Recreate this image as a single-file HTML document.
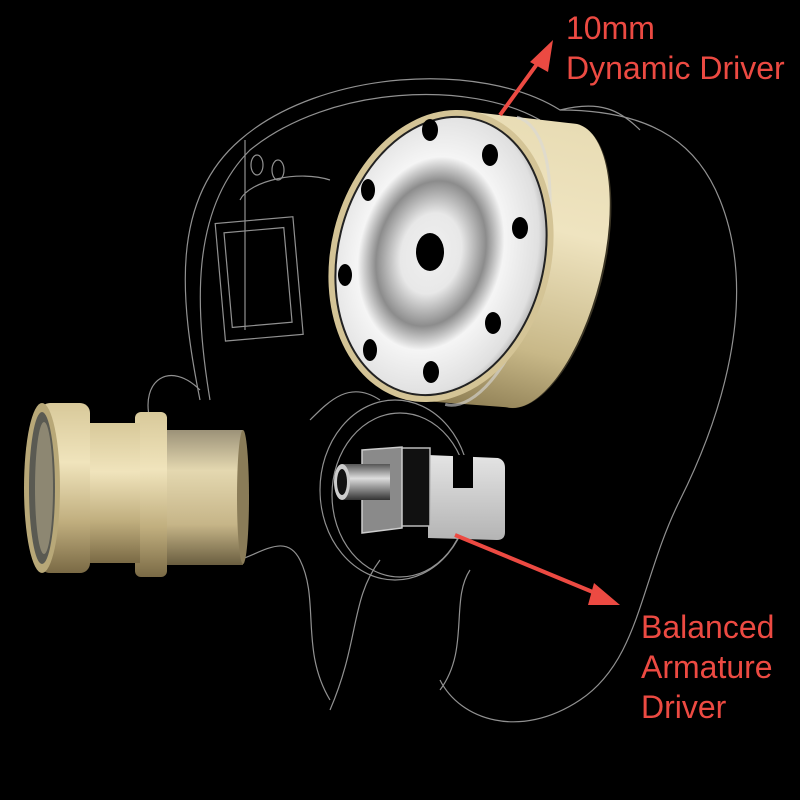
<!DOCTYPE html>
<html><head><style>
html,body{margin:0;padding:0;background:#000;}
.t{position:absolute;color:#ec4a42;font-family:"Liberation Sans",sans-serif;font-size:32px;line-height:40px;}
</style></head><body>
<div style="position:relative;width:800px;height:800px;overflow:hidden;background:#000">
<svg width="800" height="800" viewBox="0 0 800 800" style="position:absolute;left:0;top:0">
<defs>
<radialGradient id="face" cx="0.45" cy="0.5" r="0.58">
<stop offset="0" stop-color="#f0f0f0"/><stop offset="0.25" stop-color="#e8e8e8"/><stop offset="0.45" stop-color="#8c8c8c"/><stop offset="0.6" stop-color="#f5f5f5"/><stop offset="0.88" stop-color="#e0e0e0"/><stop offset="1" stop-color="#9a9a9a"/>
</radialGradient>
<linearGradient id="goldv" x1="0" y1="0" x2="0" y2="1">
<stop offset="0" stop-color="#e8dcb4"/><stop offset="0.35" stop-color="#efe4c0"/><stop offset="0.75" stop-color="#c8b888"/><stop offset="1" stop-color="#8a7a50"/>
</linearGradient>
<linearGradient id="gold2" x1="0" y1="0" x2="0" y2="1">
<stop offset="0" stop-color="#d8c99a"/><stop offset="0.35" stop-color="#f0e4bc"/><stop offset="0.7" stop-color="#c0ae7e"/><stop offset="1" stop-color="#7a6a45"/>
</linearGradient>
<linearGradient id="tube" x1="0" y1="0" x2="0" y2="1">
<stop offset="0" stop-color="#9c9278"/><stop offset="0.3" stop-color="#e4d8b0"/><stop offset="0.7" stop-color="#c6b588"/><stop offset="1" stop-color="#6a5e40"/>
</linearGradient>
<linearGradient id="silv" x1="0" y1="0" x2="0" y2="1">
<stop offset="0" stop-color="#e4e4e4"/><stop offset="1" stop-color="#b4b4b4"/>
</linearGradient>
<linearGradient id="pipe" x1="0" y1="0" x2="0" y2="1">
<stop offset="0" stop-color="#555"/><stop offset="0.4" stop-color="#ddd"/><stop offset="1" stop-color="#333"/>
</linearGradient>
</defs>
<g fill="none" stroke="#cfcfcf" stroke-width="1.2" opacity="0.7">
<path d="M200 400 C180 300 170 200 240 140 C320 70 480 60 560 110 C660 110 700 150 720 200 C760 300 720 420 680 500 C640 580 640 660 580 700 C520 740 460 720 440 680"/>
<path d="M210 400 C195 310 190 210 250 150 C330 85 470 80 540 120"/>
<path d="M330 700 C300 650 320 600 300 560 C280 520 240 580 200 560"/>
<path d="M245 140 L245 330 M240 200 C250 180 300 170 330 180"/>
<rect x="228" y="230" width="60" height="95" transform="rotate(-5 258 277)"/>
<rect x="220" y="220" width="78" height="118" transform="rotate(-5 258 277)"/>
<ellipse cx="257" cy="165" rx="6" ry="10"/><ellipse cx="278" cy="170" rx="6" ry="10"/>
<ellipse cx="395" cy="490" rx="75" ry="90"/>
<ellipse cx="400" cy="495" rx="68" ry="82"/>
<path d="M330 710 C360 640 350 600 380 560 M440 690 C470 650 450 600 470 570"/>
<path d="M150 420 C140 380 170 360 200 390 M310 420 C330 400 350 380 380 400"/>
<path d="M560 110 C600 100 620 110 640 130"/>
</g>
<!-- dynamic driver -->
<g transform="translate(441 256) rotate(14)">
<ellipse cx="100" cy="-15" rx="62" ry="146" fill="#3a3424"/>
<path d="M0 -148 L100 -161 A60 146 0 0 1 100 131 L0 148 Z" fill="url(#goldv)"/>
<path d="M40 -153 A60 146 0 0 1 40 143" fill="none" stroke="#d8d8d8" stroke-width="3" opacity="0.6"/>
<ellipse cx="0" cy="0" rx="110" ry="148" fill="#d4c496"/>
<ellipse cx="0" cy="0" rx="103" ry="141" fill="url(#face)" stroke="#222" stroke-width="2"/>
</g>
<ellipse cx="430" cy="252" rx="14" ry="19" fill="#000"/>
<g fill="#000">
<ellipse cx="430" cy="130" rx="8" ry="11"/><ellipse cx="490" cy="155" rx="8" ry="11"/>
<ellipse cx="368" cy="190" rx="7" ry="11"/><ellipse cx="520" cy="228" rx="8" ry="11"/>
<ellipse cx="345" cy="275" rx="7" ry="11"/><ellipse cx="493" cy="323" rx="8" ry="11"/>
<ellipse cx="370" cy="350" rx="7" ry="11"/><ellipse cx="431" cy="372" rx="8" ry="11"/>
</g>
<!-- nozzle -->
<rect x="165" y="430" width="78" height="135" fill="url(#tube)"/>
<ellipse cx="243" cy="497" rx="6" ry="67" fill="#8a7c58"/>
<rect x="135" y="412" width="32" height="165" rx="6" fill="url(#gold2)"/>
<rect x="85" y="423" width="55" height="140" fill="url(#gold2)"/>
<rect x="40" y="403" width="50" height="170" rx="10" fill="url(#gold2)"/>
<ellipse cx="42" cy="488" rx="18" ry="85" fill="#b8a878"/>
<ellipse cx="42" cy="488" rx="13" ry="76" fill="#5a5a52"/>
<ellipse cx="44" cy="488" rx="9" ry="66" fill="#9a927a" opacity="0.8"/>
<!-- BA driver -->
<path d="M428 455 L498 458 Q505 460 505 468 L505 532 Q505 540 497 540 L428 538 Z" fill="url(#silv)"/>
<rect x="453" y="455" width="20" height="33" fill="#000"/>
<rect x="400" y="448" width="30" height="78" fill="#111" stroke="#bbb" stroke-width="1.5"/>
<path d="M362 450 L402 447 L402 528 L362 533 Z" fill="#8a8a8a" stroke="#ccc" stroke-width="1.5"/>
<rect x="342" y="464" width="48" height="36" fill="url(#pipe)"/>
<ellipse cx="342" cy="482" rx="8" ry="18" fill="#ccc"/>
<ellipse cx="342" cy="482" rx="5" ry="13" fill="#111"/>
<!-- arrows -->
<g stroke="#ec4a42" stroke-width="4" fill="#ec4a42">
<line x1="500" y1="115" x2="540" y2="60"/>
<polygon points="553,40 530,62 548,72" stroke="none"/>
<line x1="455" y1="535" x2="600" y2="595"/>
<polygon points="620,605 594,583 588,605" stroke="none"/>
</g>
</svg>
<div class="t" style="left:566px;top:8px">10mm<br>Dynamic Driver</div>
<div class="t" style="left:641px;top:607px">Balanced<br>Armature<br>Driver</div>
</div>
</body></html>
